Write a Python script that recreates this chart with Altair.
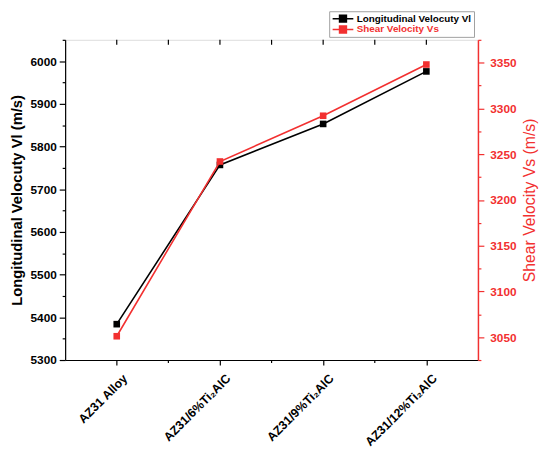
import altair as alt
import pandas as pd

categories = ["AZ31 Alloy", "AZ31/6%Ti₂AlC", "AZ31/9%Ti₂AlC", "AZ31/12%Ti₂AlC"]
longitudinal = [5384, 5757, 5853, 5976]
shear = [3051, 3242, 3292, 3348]
series_names = ["Longitudinal Velocuty Vl", "Shear Velocity Vs"]

RED = "#f23030"
FONT = "Liberation Sans"

df_l = pd.DataFrame({"cat": categories, "v": longitudinal, "series": series_names[0]})
df_s = pd.DataFrame({"cat": categories, "v": shear, "series": series_names[1]})
df_cat = pd.DataFrame({"cat": categories})
df_mid = pd.DataFrame({"cat": categories[:-1]})

x_axis = alt.Axis(
    title=None, labelAngle=-45, labelAlign="right", labelBaseline="top",
    labelFontSize=12.5, labelFontWeight="bold", labelFont=FONT, labelColor="black",
    tickColor="black", tickSize=5, tickWidth=1.2, domainColor="black", domainWidth=1.2,
    labelPadding=7, labelOffset=4, grid=False,
)
xenc = alt.X("cat:N", sort=categories, scale=alt.Scale(type="point", padding=0.5), axis=x_axis)

label_color_expr = "datum.label == 'Shear Velocity Vs' ? '%s' : '#000000'" % RED
color = alt.Color(
    "series:N",
    scale=alt.Scale(domain=series_names, range=["#000000", RED]),
    legend=alt.Legend(
        title=None, orient="none", legendX=268, legendY=-29, direction="vertical",
        strokeColor="#a0a0a0", fillColor="white", padding=2, rowPadding=0,
        clipHeight=11,
        labelFont=FONT, labelFontSize=10, labelFontWeight="bold",
        labelColor={"expr": label_color_expr},
        symbolType="M-1,0H5M1,-1H3V1H1Z", symbolSize=49, symbolStrokeWidth=1.5,
        symbolFillColor={"expr": label_color_expr},
        labelOffset=16,
    ),
)
fill = alt.Fill("series:N", scale=alt.Scale(domain=series_names, range=["#000000", RED]), legend=None)

left_axis = alt.Axis(
    title="Longitudinal Velocuty Vl (m/s)", titleFont=FONT, titleFontSize=15, titleFontWeight="bold",
    titleColor="black", titlePadding=6,
    values=list(range(5300, 6051, 50)), format="d",
    labelExpr="datum.value % 100 == 0 ? datum.label : ''",
    tickSize={"condition": {"test": "datum.value % 100 == 0", "value": 6}, "value": 3},
    labelFont=FONT, labelFontSize=12, labelFontWeight="bold", labelColor="black", labelPadding=3,
    tickColor="black", tickWidth=1.2, domainColor="black", domainWidth=1.2, grid=False,
)
right_axis = alt.Axis(
    orient="right",
    title="Shear Velocity Vs (m/s)", titleFont=FONT, titleFontSize=16, titleFontWeight="normal",
    titleColor=RED, titleAngle=270, titleBaseline="top", titlePadding=6,
    values=list(range(3025, 3376, 25)), format="d",
    labelExpr="datum.value % 50 == 0 ? datum.label : ''",
    tickSize={"condition": {"test": "datum.value % 50 == 0", "value": 6}, "value": 3},
    labelFont=FONT, labelFontSize=12, labelFontWeight="bold", labelColor=RED, labelPadding=6,
    tickColor=RED, tickWidth=1.2, domainColor=RED, domainWidth=1.5, grid=False,
)

yl = alt.Y("v:Q", scale=alt.Scale(domain=[5300, 6050], nice=False, zero=False), axis=left_axis)
yr = alt.Y("v:Q", scale=alt.Scale(domain=[3025, 3375], nice=False, zero=False), axis=right_axis)

line_l = alt.Chart(df_l).mark_line(strokeWidth=1.6).encode(x=xenc, y=yl, color=color)
pts_l = alt.Chart(df_l).mark_point(shape="square", filled=True, size=45, opacity=1).encode(x=xenc, y=yl, fill=fill)
line_s = alt.Chart(df_s).mark_line(strokeWidth=1.6).encode(x=xenc, y=yr, color=color)
pts_s = alt.Chart(df_s).mark_point(shape="square", filled=True, size=45, opacity=1).encode(x=xenc, y=yr, fill=fill)

left = alt.layer(line_l, pts_l)
right = alt.layer(line_s, pts_s)

top_major = alt.Chart(df_cat).mark_rule(color="black", strokeWidth=1.2).encode(
    x=xenc, y=alt.value(0), y2=alt.value(5))
top_minor = alt.Chart(df_mid).mark_rule(color="black", strokeWidth=1.2, xOffset=52.4).encode(
    x=xenc, y=alt.value(0), y2=alt.value(5))
bottom_minor = alt.Chart(df_mid).mark_rule(color="black", strokeWidth=1.2, xOffset=52.4).encode(
    x=xenc, y=alt.value(325), y2=alt.value(328))

chart = alt.layer(left, right, top_major, top_minor, bottom_minor).resolve_scale(
    y="independent"
).properties(
    width=419, height=325,
    autosize=alt.AutoSizeParams(type="none"),
    padding={"left": 58, "top": 29, "right": 65, "bottom": 87},
).configure_view(stroke="black", strokeWidth=1.2).configure(background="white")

chart.save("out.html", embed_options={"renderer": "svg", "actions": False})
